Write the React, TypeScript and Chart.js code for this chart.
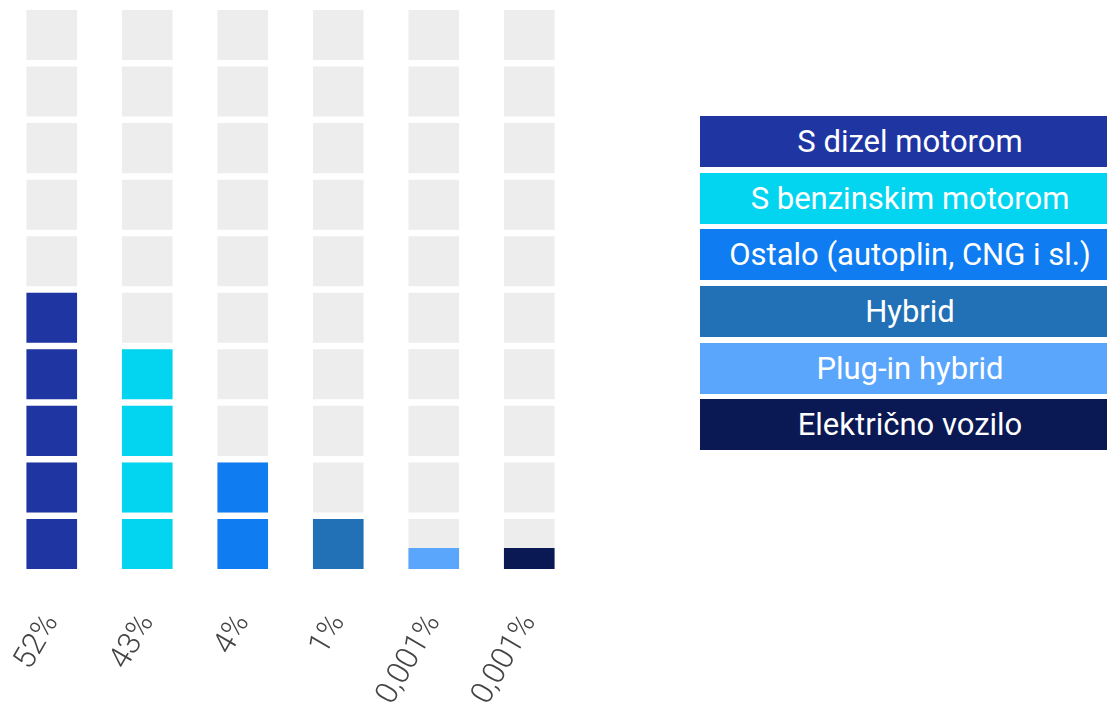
import React, { useEffect, useRef } from "react";
import { Chart, registerables } from "chart.js";

Chart.register(...registerables);

// ---- data ----
const categories = [
  "S dizel motorom",
  "S benzinskim motorom",
  "Ostalo (autoplin, CNG i sl.)",
  "Hybrid",
  "Plug-in hybrid",
  "Električno vozilo",
];
const shareLabels = ["52%", "43%", "4%", "1%", "0,001%", "0,001%"];
// number of filled cells (out of 10) per column, as drawn
const filledCells = [5, 4, 2, 1, 0.42, 0.42];
const seriesColors = ["#1f35a2", "#03d5f0", "#0f7cf1", "#2270b6", "#5aa6fd", "#0a1854"];
const emptyColor = "#ededed";
const ROWS = 10;
const CELL = 0.885; // cell height in row units (rest is gap)

export default function App() {
  const canvasRef = useRef<HTMLCanvasElement | null>(null);

  useEffect(() => {
    if (!canvasRef.current) return;
    const rows = Array.from({ length: ROWS }, (_, r) => r);
    const common = {
      grouped: false,
      barPercentage: 0.53,
      categoryPercentage: 1,
      borderWidth: 0,
    };
    const filledSets = rows.map((r) => ({
      ...common,
      label: `filled-${r}`,
      data: filledCells.map((f) =>
        f >= r + 1 ? [r, r + CELL] : f > r ? [r, r + (f - r) * CELL] : null
      ),
      backgroundColor: seriesColors,
    }));
    const emptySets = rows.map((r) => ({
      ...common,
      label: `empty-${r}`,
      data: filledCells.map(() => [r, r + CELL]),
      backgroundColor: emptyColor,
    }));

    const chart = new Chart(canvasRef.current, {
      type: "bar",
      data: {
        labels: shareLabels,
        datasets: [...filledSets, ...emptySets] as any,
      },
      options: {
        responsive: true,
        maintainAspectRatio: false,
        animation: false,
        layout: { padding: { top: 3.5, left: 4, right: 3, bottom: 0 } },
        plugins: {
          legend: { display: false },
          tooltip: { enabled: false },
        },
        scales: {
          x: {
            grid: { display: false },
            border: { display: false },
            ticks: {
              color: "#444444",
              font: { family: "Roboto", size: 31, weight: "300" as any },
              minRotation: 60,
              maxRotation: 60,
              autoSkip: false,
              padding: 31,
            },
            afterFit: (axis: any) => {
              axis.height = 135;
              axis.paddingLeft = 0;
              axis.paddingRight = 0;
            },
          },
          y: {
            display: false,
            min: 0,
            max: ROWS,
          },
        },
      },
    });
    return () => chart.destroy();
  }, []);

  return (
    <div
      style={{
        position: "absolute",
        left: 0,
        top: 0,
        width: 1107,
        height: 704,
        overflow: "hidden",
        background: "#ffffff",
      }}
    >
      <div style={{ position: "absolute", left: 0, top: 0, width: 580, height: 704 }}>
        <canvas ref={canvasRef} />
      </div>
      <div style={{ position: "absolute", left: 700, top: 116, width: 420 }}>
        {categories.map((c, i) => (
          <div
            key={c}
            style={{
              height: 51,
              marginBottom: 5.65,
              background: seriesColors[i],
              color: "#ffffff",
              fontFamily: "Roboto",
              fontSize: 31,
              lineHeight: "52px",
              textAlign: "center",
              whiteSpace: "nowrap",
            }}
          >
            {c}
          </div>
        ))}
      </div>
    </div>
  );
}
